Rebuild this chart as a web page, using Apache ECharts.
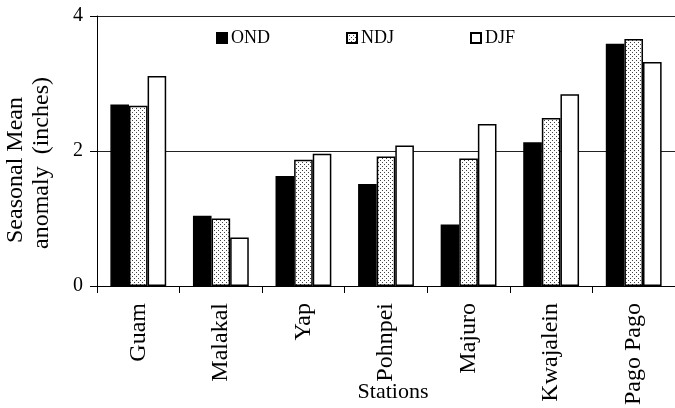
<!DOCTYPE html>
<html>
<head>
<meta charset="utf-8">
<script src="https://cdn.jsdelivr.net/npm/echarts@6/dist/echarts.min.js"></script>
<style>
html,body{margin:0;padding:0;background:#fff;}
#chart{width:675px;height:408px;}
</style>
</head>
<body>
<div id="chart"></div>
<script>
var categories = ['Guam', 'Malakal', 'Yap', 'Pohnpei', 'Majuro', 'Kwajalein', 'Pago Pago'];
var seriesNames = ['OND', 'NDJ', 'DJF'];
var OND = [2.69, 1.04, 1.63, 1.51, 0.91, 2.13, 3.59];
var NDJ = [2.67, 1.00, 1.87, 1.92, 1.89, 2.49, 3.66];
var DJF = [3.11, 0.72, 1.96, 2.08, 2.40, 2.84, 3.32];
var yTicks = [0, 2, 4];

var FONT = "'Liberation Serif', 'Times New Roman', serif";

var tile = document.createElement('canvas');
tile.width = 4; tile.height = 4;
var tc = tile.getContext('2d');
tc.fillStyle = '#ffffff';
tc.fillRect(0, 0, 4, 4);
tc.fillStyle = '#444444';
tc.fillRect(0, 0, 1, 1);
tc.fillRect(2, 2, 1, 1);
var dotPattern = { image: tile, repeat: 'repeat' };

var chart = echarts.init(document.getElementById('chart'));

function legendAt(name, left) {
  return {
    data: [name],
    left: left,
    top: 29,
    padding: 0,
    itemWidth: 10,
    itemHeight: 10,
    itemGap: 0,
    icon: 'rect',
    textStyle: { fontFamily: FONT, fontSize: 18, color: '#000', padding: [0, 0, 0, -1] },
    selectedMode: false
  };
}

var option = {
  animation: false,
  backgroundColor: '#fff',
  legend: [legendAt('OND', 216), legendAt('NDJ', 346), legendAt('DJF', 470)],
  grid: { left: 97, top: 16, width: 580, height: 273, containLabel: false },
  xAxis: {
    type: 'category',
    data: categories,
    boundaryGap: true,
    axisLine: { lineStyle: { color: '#000', width: 1 } },
    axisTick: { show: true, length: 7, inside: false, lineStyle: { color: '#000' } },
    axisLabel: {
      rotate: 90,
      margin: 17,
      fontFamily: FONT,
      fontSize: 24,
      color: '#000'
    },
    splitLine: { show: false }
  },
  yAxis: {
    type: 'value',
    min: 0,
    max: 4,
    interval: 2,
    axisLine: { show: true, lineStyle: { color: '#000', width: 1 } },
    axisTick: { show: true, length: 7, inside: false, lineStyle: { color: '#000' } },
    axisLabel: {
      margin: 14,
      fontFamily: FONT,
      fontSize: 20,
      color: '#000',
      formatter: function (v) { return yTicks.indexOf(v) >= 0 ? String(v) : ''; }
    },
    splitLine: { show: true, lineStyle: { color: '#222', width: 1 } }
  },
  graphic: [
    {
      type: 'text', x: 16, y: 170, rotation: Math.PI / 2,
      style: { text: 'Seasonal Mean', fontFamily: FONT, fontSize: 24, fill: '#000', align: 'center', verticalAlign: 'middle' }
    },
    {
      type: 'text', x: 42, y: 163, rotation: Math.PI / 2,
      style: { text: 'anomaly  (inches)', fontFamily: FONT, fontSize: 24, fill: '#000', align: 'center', verticalAlign: 'middle' }
    },
    {
      type: 'text', x: 393, y: 392,
      style: { text: 'Stations', fontFamily: FONT, fontSize: 22, fill: '#000', align: 'center', verticalAlign: 'middle' }
    }
  ],
  series: [
    {
      name: 'OND', type: 'bar', data: OND,
      barGap: '0%', barCategoryGap: '32.4%',
      itemStyle: { color: '#000', borderColor: '#000', borderWidth: 1.5 }
    },
    {
      name: 'NDJ', type: 'bar', data: NDJ,
      barGap: '0%', barCategoryGap: '32.4%',
      itemStyle: { color: dotPattern, borderColor: '#000', borderWidth: 1.5 }
    },
    {
      name: 'DJF', type: 'bar', data: DJF,
      barGap: '0%', barCategoryGap: '32.4%',
      itemStyle: { color: '#fff', borderColor: '#000', borderWidth: 1.5 }
    }
  ]
};
chart.setOption(option);
</script>
</body>
</html>
